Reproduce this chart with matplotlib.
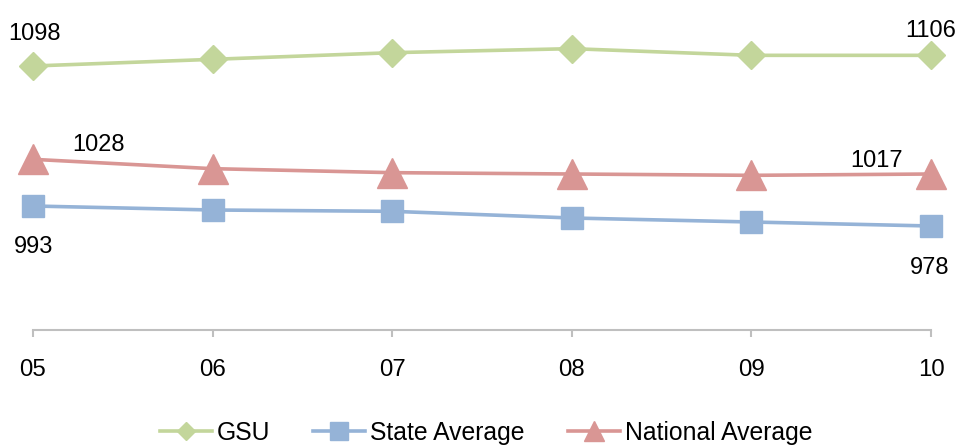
import matplotlib
matplotlib.use("Agg")
import matplotlib.pyplot as plt
from matplotlib.lines import Line2D

plt.rcParams['font.family'] = ['Liberation Sans', 'DejaVu Sans']

years = ["05", "06", "07", "08", "09", "10"]
gsu = [1098, 1103, 1108, 1111, 1106, 1106]
state_avg = [993, 990, 989, 984, 981, 978]
national_avg = [1028, 1021, 1018, 1017, 1016, 1017]

GREEN = "#c3d69b"
BLUE = "#95b3d7"
RED = "#d99694"
FS = 17

fig = plt.figure(figsize=(9.59, 4.48), dpi=100)
ax = fig.add_axes([33 / 959, 118 / 448, (931 - 33) / 959, 330 / 448])

x = list(range(len(years)))
series = [
    ("GSU", gsu, GREEN, "D", 14.5),
    ("State Average", state_avg, BLUE, "s", 16.5),
    ("National Average", national_avg, RED, "^", 21),
]
for name, vals, col, mk, ms in series:
    ax.plot(x, vals, color=col, lw=2.6, marker=mk, markersize=ms,
            markerfacecolor=col, markeredgecolor=col, markeredgewidth=1,
            solid_joinstyle="round", clip_on=False, zorder=3)

# value labels at first and last year (offsets in pixels)
labels = [
    (gsu, 0, (2, 26)), (gsu, -1, (0, 18)),
    (national_avg, 0, (65, 8)), (national_avg, -1, (-54, 7)),
    (state_avg, 0, (1, -47)), (state_avg, -1, (-1, -48)),
]
for vals, i, off in labels:
    xi = x[i]
    ax.annotate(f"{vals[i]}", (xi, vals[i]), xytext=off, textcoords="offset pixels",
                ha="center", va="baseline", fontsize=FS, color="black")

ax.set_xlim(0, len(years) - 1)
ax.set_ylim(900, 1147.5)
ax.set_xticks(x)
ax.set_xticklabels(years, fontsize=FS + 0.3)
ax.set_yticks([])
for s in ["top", "right", "left"]:
    ax.spines[s].set_visible(False)
ax.spines["bottom"].set_color("#bfbfbf")
ax.spines["bottom"].set_linewidth(1.5)
ax.tick_params(axis="x", length=5, width=1.5, color="#bfbfbf", pad=16)

handles = [
    Line2D([], [], color=GREEN, lw=2.6, marker="D", markersize=9.5, markerfacecolor=GREEN, markeredgecolor=GREEN),
    Line2D([], [], color=BLUE, lw=2.6, marker="s", markersize=13, markerfacecolor=BLUE, markeredgecolor=BLUE),
    Line2D([], [], color=RED, lw=2.6, marker="^", markersize=14, markerfacecolor=RED, markeredgecolor=RED),
]
fig.legend(handles, [s[0] for s in series], loc="center", bbox_to_anchor=(486 / 959, 1 - 433 / 448),
           ncol=3, frameon=False, fontsize=17.8, handlelength=2.1, handletextpad=0.2,
           columnspacing=1.75, borderaxespad=0, borderpad=0)

fig.savefig("out.png", dpi=100)
